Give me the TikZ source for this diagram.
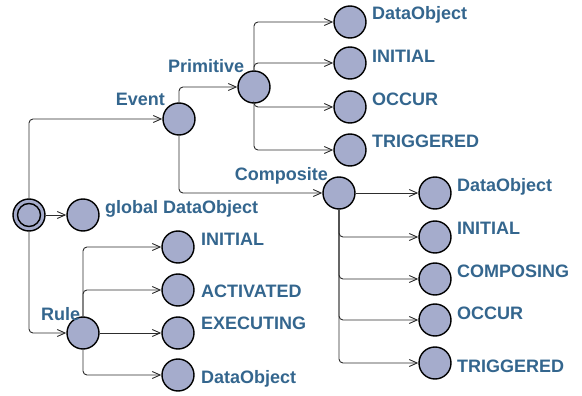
\documentclass[tikz,border=0pt]{standalone}
\usepackage{fontspec}
\setmainfont{Liberation Sans}
\usetikzlibrary{arrows.meta}
\definecolor{statefill}{RGB}{165,172,204}
\definecolor{labelblue}{RGB}{52,102,142}
\definecolor{wire}{RGB}{45,45,45}
\tikzset{
  state/.style={circle, draw=black, line width=1.4pt, fill=statefill,
    minimum size=32pt, inner sep=0pt},
  tag/.style={text=labelblue, font=\fontsize{18}{20}\selectfont\bfseries,
    inner sep=0pt, anchor=base west},
  tagr/.style={tag, anchor=base east},
  conn/.style={draw=wire, line width=0.9pt, rounded corners=4pt,
    -{Straight Barb[length=8pt,width=7pt,line width=0.9pt]}}
}
\begin{document}
\begin{tikzpicture}[x=1pt,y=-1pt]
\useasboundingbox (0,0) rectangle (582,396);

% root (initial) state
\node[state] (root) at (29,215) {};
\node[circle, draw=black, line width=1.4pt, minimum size=23pt, inner sep=0pt] (rootin) at (29,215) {};

% first level
\node[state] (glob) at (83,215) {};
\node[state] (event) at (179,119) {};
\node[state] (rule) at (83,333) {};

% event children
\node[state] (prim) at (254,87) {};
\node[state] (comp) at (339,193) {};

% primitive children
\node[state] (pdata) at (350,22) {};
\node[state] (pinit) at (350,63) {};
\node[state] (poccur) at (350,107) {};
\node[state] (ptrig) at (350,150) {};

% composite children
\node[state] (cdata) at (435,193) {};
\node[state] (cinit) at (435,237) {};
\node[state] (ccomp) at (435,279) {};
\node[state] (coccur) at (435,320) {};
\node[state] (ctrig) at (435,363) {};

% rule children
\node[state] (rinit) at (178,247) {};
\node[state] (ract) at (178,290) {};
\node[state] (rexec) at (178,333) {};
\node[state] (rdata) at (178,375) {};

% labels
\node[tag] (lglob) at (105,214) {global DataObject};
\node[tagr] (levent) at (165,106) {Event};
\node[tag] (lprim) at (168,73) {Primitive};
\node[tagr] (lcomp) at (328,180) {Composite};
\node[tag] (lrule) at (41,320) {Rule};

\node[tag] (lpdata) at (372,20) {DataObject};
\node[tag] (lpinit) at (372,63) {INITIAL};
\node[tag] (lpoccur) at (372,106) {OCCUR};
\node[tag] (lptrig) at (372,148) {TRIGGERED};

\node[tag] (lcdata) at (457,191) {DataObject};
\node[tag] (lcinit) at (457,234) {INITIAL};
\node[tag] (lccomp) at (457,277) {COMPOSING};
\node[tag] (lcoccur) at (457,319) {OCCUR};
\node[tag] (lctrig) at (457,372) {TRIGGERED};

\node[tag] (lrinit) at (201,245) {INITIAL};
\node[tag] (lract) at (201,297) {ACTIVATED};
\node[tag] (lrexec) at (201,329) {EXECUTING};
\node[tag] (lrdata) at (201,383) {DataObject};

% connectors
\draw[conn] (root.north) |- (event);
\draw[conn] (root) -- (glob);
\draw[conn] (root.south) |- (rule);

\draw[conn] (event.north) |- (prim);
\draw[conn] (event.south) |- (comp);

\draw[conn] (prim.north) |- (pdata);
\draw[conn] (prim.north) |- (pinit);
\draw[conn] (prim.south) |- (poccur);
\draw[conn] (prim.south) |- (ptrig);

\draw[conn] (comp) -- (cdata);
\draw[conn] (comp.south) |- (cinit);
\draw[conn] (comp.south) |- (ccomp);
\draw[conn] (comp.south) |- (coccur);
\draw[conn] (comp.south) |- (ctrig);

\draw[conn] (rule.north) |- (rinit);
\draw[conn] (rule.north) |- (ract);
\draw[conn] (rule) -- (rexec);
\draw[conn] (rule.south) |- (rdata);
\end{tikzpicture}
\end{document}
